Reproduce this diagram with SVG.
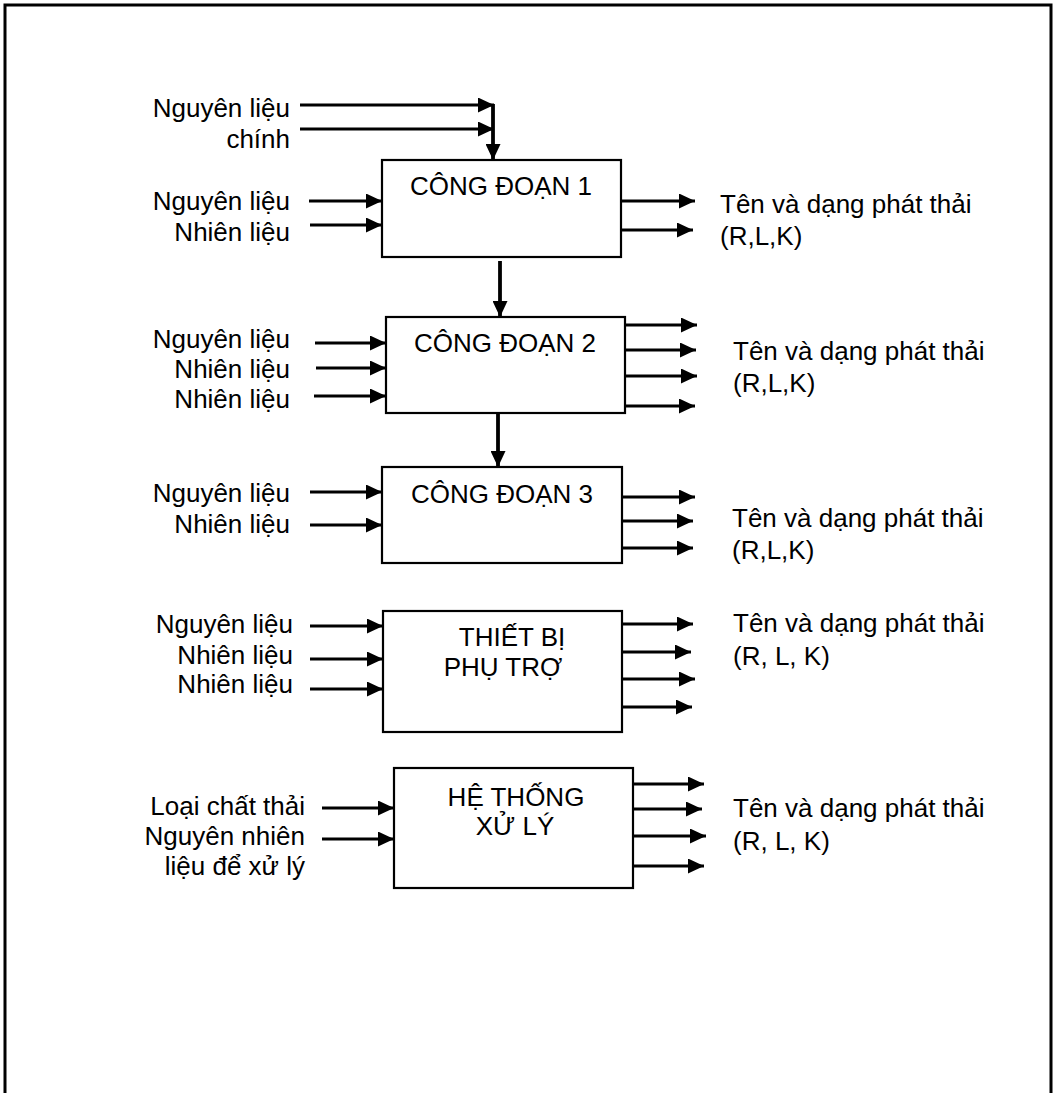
<svg xmlns="http://www.w3.org/2000/svg" width="1056" height="1093" viewBox="0 0 1056 1093">
<style>
text{font-family:"Liberation Sans",Arial,sans-serif;font-size:26px;fill:#000}
.r{text-anchor:end}
.m{text-anchor:middle}
.box{fill:#fff;stroke:#000;stroke-width:2.2}
.c{stroke:#000;stroke-width:2.8;fill:none}
.t{stroke-width:3.8}
</style>
<defs>
<marker id="ah" markerUnits="userSpaceOnUse" markerWidth="17" markerHeight="15" refX="16" refY="7.5" orient="auto">
<path d="M0,0 L16,7.5 L0,15 Z" fill="#000"/>
</marker>
</defs>
<path d="M5,1093 V5 H1051 V1093" fill="none" stroke="#000" stroke-width="3"/>

<g id="connectors">
<line class="c" x1="300" y1="105" x2="494" y2="105" marker-end="url(#ah)"/>
<line class="c" x1="300" y1="129" x2="494" y2="129" marker-end="url(#ah)"/>
<line class="c t" x1="493" y1="104" x2="493" y2="160" marker-end="url(#ah)"/>
<line class="c" x1="309" y1="201" x2="382" y2="201" marker-end="url(#ah)"/>
<line class="c" x1="310" y1="225" x2="382" y2="225" marker-end="url(#ah)"/>
<line class="c" x1="621" y1="201" x2="695" y2="201" marker-end="url(#ah)"/>
<line class="c" x1="620" y1="230" x2="693" y2="230" marker-end="url(#ah)"/>
<line class="c t" x1="500" y1="261" x2="500" y2="317" marker-end="url(#ah)"/>

<line class="c" x1="315" y1="343" x2="386" y2="343" marker-end="url(#ah)"/>
<line class="c" x1="316" y1="368" x2="386" y2="368" marker-end="url(#ah)"/>
<line class="c" x1="314" y1="396" x2="386" y2="396" marker-end="url(#ah)"/>
<line class="c" x1="625" y1="325" x2="697" y2="325" marker-end="url(#ah)"/>
<line class="c" x1="623" y1="350" x2="696" y2="350" marker-end="url(#ah)"/>
<line class="c" x1="625" y1="376" x2="697" y2="376" marker-end="url(#ah)"/>
<line class="c" x1="624" y1="406" x2="695" y2="406" marker-end="url(#ah)"/>
<line class="c t" x1="498" y1="412" x2="498" y2="467" marker-end="url(#ah)"/>

<line class="c" x1="310" y1="492" x2="382" y2="492" marker-end="url(#ah)"/>
<line class="c" x1="310" y1="525" x2="382" y2="525" marker-end="url(#ah)"/>
<line class="c" x1="622" y1="497" x2="695" y2="497" marker-end="url(#ah)"/>
<line class="c" x1="621" y1="521" x2="693" y2="521" marker-end="url(#ah)"/>
<line class="c" x1="622" y1="548" x2="693" y2="548" marker-end="url(#ah)"/>

<line class="c" x1="310" y1="626" x2="383" y2="626" marker-end="url(#ah)"/>
<line class="c" x1="310" y1="659" x2="383" y2="659" marker-end="url(#ah)"/>
<line class="c" x1="310" y1="689" x2="383" y2="689" marker-end="url(#ah)"/>
<line class="c" x1="621" y1="624" x2="693" y2="624" marker-end="url(#ah)"/>
<line class="c" x1="620" y1="652" x2="691" y2="652" marker-end="url(#ah)"/>
<line class="c" x1="622" y1="679" x2="695" y2="679" marker-end="url(#ah)"/>
<line class="c" x1="622" y1="707" x2="692" y2="707" marker-end="url(#ah)"/>

<line class="c" x1="322" y1="808" x2="394" y2="808" marker-end="url(#ah)"/>
<line class="c" x1="322" y1="839" x2="394" y2="839" marker-end="url(#ah)"/>
<line class="c" x1="632" y1="784" x2="704" y2="784" marker-end="url(#ah)"/>
<line class="c" x1="631" y1="809" x2="702" y2="809" marker-end="url(#ah)"/>
<line class="c" x1="633" y1="836" x2="706" y2="836" marker-end="url(#ah)"/>
<line class="c" x1="633" y1="866" x2="704" y2="866" marker-end="url(#ah)"/>
</g>

<g id="inputs-top">
<text class="r" x="290" y="117">Nguyên liệu</text>
<text class="r" x="290" y="148">chính</text>
</g>

<g id="cong-doan-1">
<rect class="box" x="382" y="160" width="239" height="97"/>
<text class="m" x="501" y="195">CÔNG ĐOẠN 1</text>
<text class="r" x="290" y="210">Nguyên liệu</text>
<text class="r" x="290" y="241">Nhiên liệu</text>
<text x="720" y="213">Tên và dạng phát thải</text>
<text x="720" y="245">(R,L,K)</text>
</g>

<g id="cong-doan-2">
<rect class="box" x="386" y="317" width="239" height="96"/>
<text class="m" x="505" y="352">CÔNG ĐOẠN 2</text>
<text class="r" x="290" y="348">Nguyên liệu</text>
<text class="r" x="290" y="378">Nhiên liệu</text>
<text class="r" x="290" y="408">Nhiên liệu</text>
<text x="733" y="360">Tên và dạng phát thải</text>
<text x="733" y="392">(R,L,K)</text>
</g>

<g id="cong-doan-3">
<rect class="box" x="382" y="467" width="240" height="96"/>
<text class="m" x="502" y="503">CÔNG ĐOẠN 3</text>
<text class="r" x="290" y="502">Nguyên liệu</text>
<text class="r" x="290" y="533">Nhiên liệu</text>
<text x="732" y="527">Tên và dạng phát thải</text>
<text x="732" y="559">(R,L,K)</text>
</g>

<g id="thiet-bi-phu-tro">
<rect class="box" x="383" y="611" width="239" height="121"/>
<text class="m" x="512" y="646">THIẾT BỊ</text>
<text class="m" x="503" y="676">PHỤ TRỢ</text>
<text class="r" x="293" y="633">Nguyên liệu</text>
<text class="r" x="293" y="664">Nhiên liệu</text>
<text class="r" x="293" y="693">Nhiên liệu</text>
<text x="733" y="632">Tên và dạng phát thải</text>
<text x="733" y="665">(R, L, K)</text>
</g>

<g id="he-thong-xu-ly">
<rect class="box" x="394" y="768" width="239" height="120"/>
<text class="m" x="516" y="806">HỆ THỐNG</text>
<text class="m" x="515" y="835">XỬ LÝ</text>
<text class="r" x="305" y="815">Loại chất thải</text>
<text class="r" x="305" y="845">Nguyên nhiên</text>
<text class="r" x="305" y="875">liệu để xử lý</text>
<text x="733" y="817">Tên và dạng phát thải</text>
<text x="733" y="850">(R, L, K)</text>
</g>
</svg>
